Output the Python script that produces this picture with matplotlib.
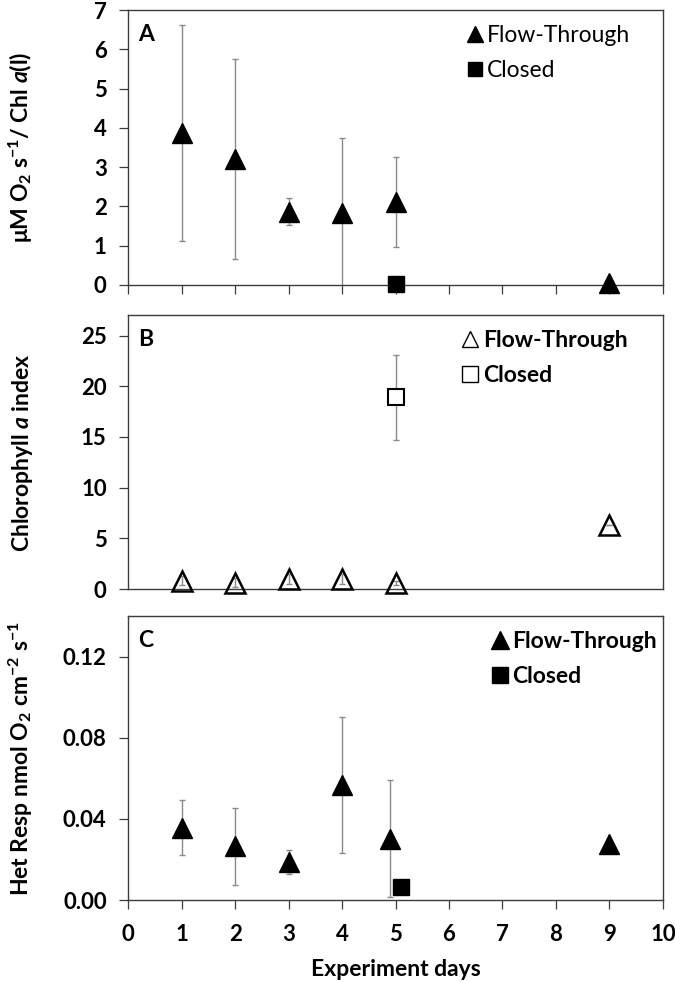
import numpy as np
import matplotlib
matplotlib.use('Agg')
import matplotlib.pyplot as plt
from matplotlib.lines import Line2D

plt.rcParams['font.family'] = ['Lato', 'DejaVu Sans']
plt.rcParams['mathtext.fontset'] = 'custom'
plt.rcParams['mathtext.rm'] = 'Lato:bold'
plt.rcParams['mathtext.bf'] = 'Lato:bold'
plt.rcParams['mathtext.it'] = 'Lato:bold:italic'

#%% Data
# Panel A: uM O2 s-1 / Chl a(l)
a_ft_days = [1, 2, 3, 4, 5, 9]
a_ft_vals = [3.87, 3.2, 1.87, 1.83, 2.12, 0.05]
a_ft_err = [2.75, 2.55, 0.35, 1.92, 1.15, 0.0]
a_cl_days = [5]
a_cl_vals = [0.02]

# Panel B: Chlorophyll a index
b_ft_days = [1, 2, 3, 4, 5, 9]
b_ft_vals = [0.85, 0.65, 1.0, 1.0, 0.65, 6.3]
b_ft_err = [0.45, 0.45, 0.45, 0.5, 0.2, 0.0]
b_cl_days = [5]
b_cl_vals = [18.9]
b_cl_err = [4.15]

# Panel C: Het Resp nmol O2 cm-2 s-1
c_ft_days = [1, 2, 3, 4, 4.9, 9]
c_ft_vals = [0.0356, 0.0266, 0.0189, 0.0569, 0.0303, 0.0277]
c_ft_err = [0.0135, 0.019, 0.006, 0.0335, 0.029, 0.0]
c_cl_days = [5.1]
c_cl_vals = [0.0064]

x_ticks = list(range(0, 11))
labels = ["Flow-Through", "Closed"]

#%% Styling
FRAME = '#3c3c3c'
ECOL = '#8a8a8a'
TICK_FS = 16
LEG_FS = 16.5
LAB_FS = 16.5

fig = plt.figure(figsize=(6.75, 9.82), dpi=100)
ax_a = fig.add_axes([0.19, 0.7098, 0.792, 0.280])
ax_b = fig.add_axes([0.19, 0.400, 0.792, 0.279])
ax_c = fig.add_axes([0.19, 0.0835, 0.792, 0.289])


def style_axis(ax, xlabels=False, xticks_on=True):
    for sp in ax.spines.values():
        sp.set_color(FRAME)
        sp.set_linewidth(1.0)
    ax.set_xlim(0, 10)
    ax.set_xticks(x_ticks)
    ax.tick_params(axis='y', direction='out', length=6.5, width=0.9, color=FRAME,
                   pad=9, labelsize=TICK_FS)
    ax.tick_params(axis='x', direction='out', length=6.5 if xticks_on else 0,
                   width=0.9, color=FRAME, pad=11, labelsize=TICK_FS,
                   labelbottom=xlabels)
    for lab in ax.get_yticklabels() + ax.get_xticklabels():
        lab.set_fontweight('bold')


#%% Panel A
ax_a.errorbar(a_ft_days, a_ft_vals, yerr=a_ft_err, fmt='none', ecolor=ECOL,
              elinewidth=1, capsize=2.5, capthick=1, zorder=2)
ax_a.plot(a_ft_days, a_ft_vals, '^', color='black', ms=14, clip_on=False, zorder=3)
ax_a.plot(a_cl_days, a_cl_vals, 's', color='black', ms=11, clip_on=False, zorder=3)
ax_a.set_ylim(0, 7)
ax_a.set_yticks(range(0, 8))
style_axis(ax_a)
ax_a.set_ylabel(r"μM O$_2$ s$^{-1}$/ Chl $a$(l)", fontsize=LAB_FS, fontweight='bold')
ax_a.text(0.018, 0.95, "A", transform=ax_a.transAxes, fontsize=16.5,
          fontweight='bold', va='top')
h_a = [Line2D([], [], ls='none', marker='^', color='black', ms=11),
       Line2D([], [], ls='none', marker='s', color='black', ms=10)]
ax_a.legend(h_a, labels, loc='upper right', bbox_to_anchor=(0.965, 0.995),
            frameon=False, fontsize=LEG_FS, handletextpad=0.1, labelspacing=0.6,
            handlelength=0.9, borderaxespad=0.2)

#%% Panel B
ax_b.errorbar(b_ft_days, b_ft_vals, yerr=b_ft_err, fmt='none', ecolor=ECOL,
              elinewidth=1, capsize=2, capthick=1, zorder=2)
ax_b.errorbar(b_cl_days, b_cl_vals, yerr=b_cl_err, fmt='none', ecolor=ECOL,
              elinewidth=1, capsize=2.5, capthick=1, zorder=2)
ax_b.plot(b_ft_days, b_ft_vals, '^', mfc='none', mec='black', mew=1.8, ms=14,
          clip_on=False, zorder=3)
ax_b.plot(b_cl_days, b_cl_vals, 's', mfc='white', mec='black', mew=1.5, ms=11,
          clip_on=False, zorder=3)
ax_b.set_ylim(0, 27)
ax_b.set_yticks(range(0, 26, 5))
style_axis(ax_b, xticks_on=False)
ax_b.set_ylabel(r"Chlorophyll $a$ index", fontsize=LAB_FS, fontweight='bold')
ax_b.text(0.018, 0.95, "B", transform=ax_b.transAxes, fontsize=16.5,
          fontweight='bold', va='top')
h_b = [Line2D([], [], ls='none', marker='^', mfc='none', mec='black', mew=1.0, ms=11),
       Line2D([], [], ls='none', marker='s', mfc='none', mec='black', mew=1.0, ms=11)]
leg_b = ax_b.legend(h_b, labels, loc='upper right', bbox_to_anchor=(0.96, 0.995),
                    frameon=False, fontsize=LEG_FS, handletextpad=0.1,
                    labelspacing=0.6, handlelength=0.9, borderaxespad=0.2)
for t in leg_b.get_texts():
    t.set_fontweight('bold')

#%% Panel C
ax_c.errorbar(c_ft_days, c_ft_vals, yerr=c_ft_err, fmt='none', ecolor=ECOL,
              elinewidth=1, capsize=2.5, capthick=1, zorder=2)
ax_c.plot(c_ft_days, c_ft_vals, '^', color='black', ms=14, clip_on=False, zorder=3)
ax_c.plot(c_cl_days, c_cl_vals, 's', color='black', ms=11, clip_on=False, zorder=3)
ax_c.set_ylim(0, 0.14)
ax_c.set_yticks([0.0, 0.04, 0.08, 0.12])
ax_c.set_yticklabels([f"{v:.2f}" for v in [0.0, 0.04, 0.08, 0.12]])
style_axis(ax_c, xlabels=True)
ax_c.set_ylabel(r"Het Resp nmol O$_2$ cm$^{-2}$ s$^{-1}$", fontsize=LAB_FS,
                fontweight='bold')
ax_c.set_xlabel("Experiment days", fontsize=LAB_FS, fontweight='bold', labelpad=10)
ax_c.text(0.018, 0.95, "C", transform=ax_c.transAxes, fontsize=16.5,
          fontweight='bold', va='top')
h_c = [Line2D([], [], ls='none', marker='^', color='black', ms=13),
       Line2D([], [], ls='none', marker='s', color='black', ms=11)]
leg_c = ax_c.legend(h_c, labels, loc='upper right', bbox_to_anchor=(1.015, 0.995),
                    frameon=False, fontsize=LEG_FS, handletextpad=0.1,
                    labelspacing=0.6, handlelength=0.9, borderaxespad=0.2)
for t in leg_c.get_texts():
    t.set_fontweight('bold')

for ax in (ax_a, ax_b, ax_c):
    ax.yaxis.set_label_coords(-0.175, 0.5)

fig.savefig('out.png', dpi=100)
